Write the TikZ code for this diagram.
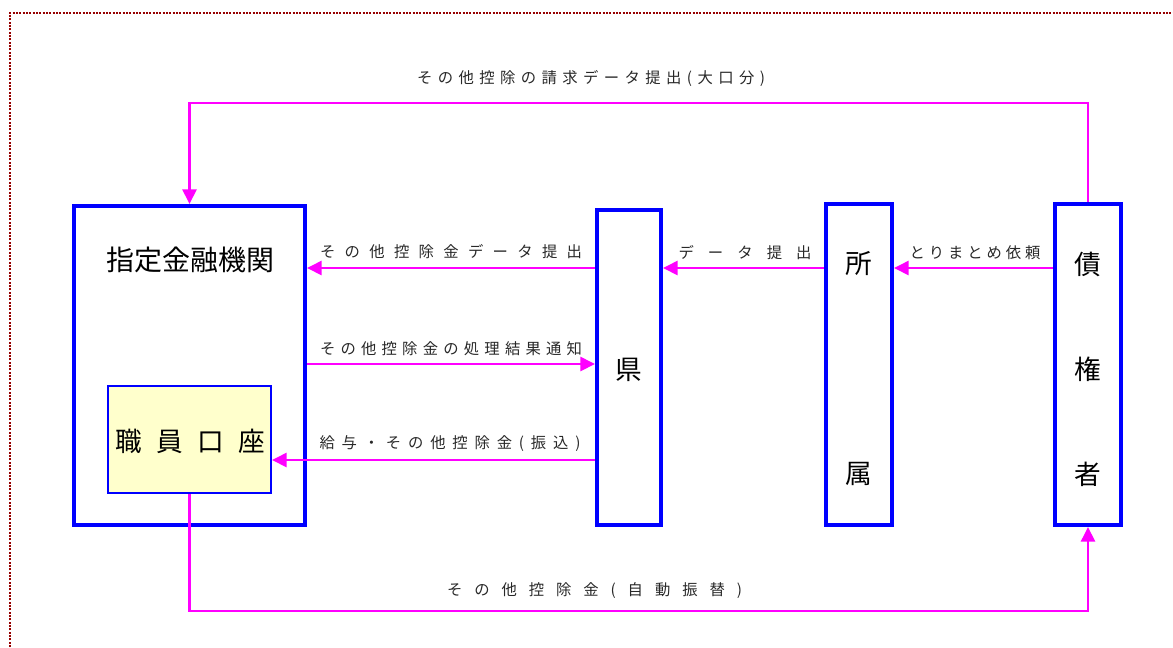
\documentclass[tikz,border=0pt]{standalone}
\usepackage{fontspec}
\setmainfont{Noto Sans CJK JP}
\usetikzlibrary{arrows.meta}

\definecolor{boxblue}{RGB}{0,0,255}
\definecolor{flowpink}{RGB}{255,0,255}
\definecolor{accfill}{RGB}{255,255,204}
\definecolor{framered}{RGB}{150,0,0}
\definecolor{labelgray}{RGB}{40,40,40}

% spread the characters of #2 over a width of #1
\newcommand\spreadtext[2]{\makebox[#1][s]{\spreadfirst#2\relax}}
\def\spreadfirst#1{#1\spreadrest}
\def\spreadrest#1{\ifx\relax#1\else\hfil#1\expandafter\spreadrest\fi}

\tikzset{
  unit/.style={draw=boxblue, line width=3pt, inner sep=0pt},
  account/.style={draw=boxblue, line width=1.5pt, fill=accfill, inner sep=0pt},
  flow/.style={draw=flowpink, line width=2pt, -{Triangle[length=11pt,width=10.5pt]}},
  big/.style={font=\fontsize{20}{24}\selectfont, inner sep=0pt},
  small/.style={font=\fontsize{11.5}{14}\selectfont, text=labelgray, inner sep=0pt},
}

\begin{document}
\begin{tikzpicture}[x=0.75pt,y=-0.75pt]
\useasboundingbox (0,0) rectangle (1173,647);
\draw[framered, line width=1.7pt, dash pattern=on 1.5pt off 1pt] (10,647) -- (10,13) -- (1173,13);

% boxes
\node[unit, minimum width=173.25pt, minimum height=239.25pt] (bank) at (189.5,365.5) {};
\node[account, minimum width=122.25pt, minimum height=80.25pt] (acc) at (189.5,439.5) {};
\node[unit, minimum width=48pt, minimum height=236.25pt] (ken) at (629,367.5) {};
\node[unit, minimum width=49.5pt, minimum height=240.75pt] (shozoku) at (859,364.5) {};
\node[unit, minimum width=49.5pt, minimum height=240.75pt] (saiken) at (1088,364.5) {};

% box texts
\node[big, font=\fontsize{21}{25}\selectfont] (bankname) at (190,260) {指定金融機関};
\node[big] (accname) at (190,441) {\spreadtext{112.5pt}{職員口座}};
\node[big] (kenname) at (629,370) {県};
\node[big] (sho) at (859,264) {所};
\node[big] (zoku) at (859,474) {属};
\node[big] (sai) at (1088,264) {債};
\node[big] (ken2) at (1088,369) {権};
\node[big] (sha) at (1088,474) {者};

% rows of the connectors
\coordinate (toprow) at (0,103);
\coordinate (row1) at (0,268);
\coordinate (row2) at (0,364);
\coordinate (row3) at (0,460);
\coordinate (botrow) at (0,611);

% connectors
\draw[flow] (saiken.north) -- (saiken.north |- toprow) -- (bank.north |- toprow) -- (bank.north);
\draw[flow] (ken.west |- row1) -- (bank.east |- row1);
\draw[flow] (bank.east |- row2) -- (ken.west |- row2);
\draw[flow] (ken.west |- row3) -- (acc.east |- row3);
\draw[flow] (shozoku.west |- row1) -- (ken.east |- row1);
\draw[flow] (saiken.west |- row1) -- (shozoku.east |- row1);
\draw[flow] (acc.south) -- (acc.south |- botrow) -- (saiken.south |- botrow) -- (saiken.south);

% connector labels
\node[small] (lbltop) at (591,78) {\spreadtext{261pt}{その他控除の請求データ提出(大口分)}};
\node[small] (lbldata) at (451,252) {\spreadtext{196.5pt}{その他控除金データ提出}};
\node[small] (lblresult) at (451,349) {\spreadtext{196.5pt}{その他控除金の処理結果通知}};
\node[small] (lblpay) at (450,444) {\spreadtext{195.75pt}{給与・その他控除金(振込)}};
\node[small] (lblsubmit) at (745,253) {\spreadtext{99.75pt}{データ提出}};
\node[small] (lblask) at (975,253) {\spreadtext{98.25pt}{とりまとめ依頼}};
\node[small] (lblauto) at (594.5,591) {\spreadtext{221.25pt}{その他控除金(自動振替)}};

\end{tikzpicture}
\end{document}
